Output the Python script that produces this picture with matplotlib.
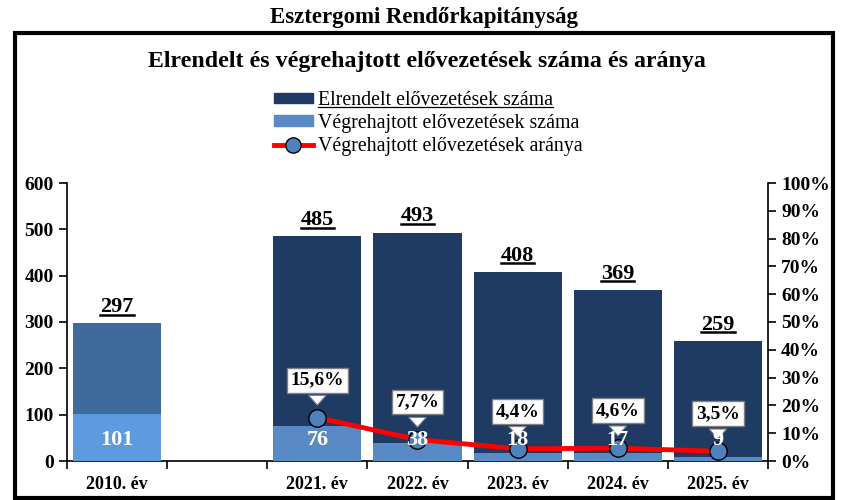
import numpy as np
import matplotlib
matplotlib.use("Agg")
import matplotlib.pyplot as plt
from matplotlib.patches import Rectangle, Patch
from matplotlib.lines import Line2D

plt.rcParams['font.family'] = ['Liberation Serif', 'DejaVu Serif']

# Adatok
categories = ['2010. év', '', '2021. év', '2022. év', '2023. év', '2024. év', '2025. év']
elrendelt = [297, np.nan, 485, 493, 408, 369, 259]
vegrehajtott = [101, np.nan, 76, 38, 18, 17, 9]
arany_years = ['2021. év', '2022. év', '2023. év', '2024. év', '2025. év']
arany = [15.6, 7.7, 4.4, 4.6, 3.5]
arany_labels = ['15,6%', '7,7%', '4,4%', '4,6%', '3,5%']

dark = '#1F3B64'
light = '#5A8AC6'
dark_2010 = '#3F6A9C'
light_2010 = '#5E9AE0'

W, H = 841, 500
fig = plt.figure(figsize=(W / 100, H / 100), dpi=100)

ax = fig.add_axes([67 / W, 1 - 461 / H, (768 - 67) / W, (461 - 183) / H])
ax2 = ax.twinx()

x = np.arange(len(categories))
top_colors = [dark_2010] + [dark] * (len(categories) - 1)
bot_colors = [light_2010] + [light] * (len(categories) - 1)
ax.bar(x, elrendelt, width=0.88, color=top_colors, zorder=2)
ax.bar(x, vegrehajtott, width=0.88, color=bot_colors, zorder=3)

ax.set_xlim(-0.5, len(categories) - 0.5)
ax.set_ylim(0, 600)
ax.set_yticks(range(0, 601, 100))
ax.set_xticks(x)
ax.set_xticklabels(categories, fontsize=13, fontweight='bold')
ax.set_xticks(np.arange(-0.5, len(categories), 1), minor=True)
ax.tick_params(axis='x', which='major', length=0, pad=11)
ax.tick_params(axis='x', which='minor', length=6, direction='out', width=1.2)
ax.tick_params(axis='y', length=6, width=1.2, direction='out', labelsize=14)
for lab in ax.get_yticklabels():
    lab.set_fontweight('bold')
for s in ['top', 'right']:
    ax.spines[s].set_visible(False)
ax.spines['left'].set_linewidth(1.2)
ax.spines['bottom'].set_linewidth(1.2)

# arány vonal a jobb tengelyen
xa = [categories.index(c) for c in arany_years]
ax2.plot(xa, arany, color='#FF0000', lw=3.5, marker='o', ms=12.5,
         mfc='#4F81BD', mec='black', mew=1.0, zorder=5)
ax2.set_ylim(0, 100)
ax2.set_yticks(range(0, 101, 10))
ax2.set_yticklabels([f'{v}%' for v in range(0, 101, 10)])
ax2.tick_params(axis='y', length=6, width=1.2, direction='out', labelsize=14)
for lab in ax2.get_yticklabels():
    lab.set_fontweight('bold')
for s in ['top', 'left', 'bottom']:
    ax2.spines[s].set_visible(False)
ax2.spines['right'].set_linewidth(1.2)

for xi, v, lab in zip(xa, arany, arany_labels):
    ax2.annotate(lab, xy=(xi, v), xytext=(0, 27), textcoords='offset points',
                 ha='center', va='center', fontsize=14, fontweight='bold', zorder=8,
                 bbox=dict(boxstyle='square,pad=0.2', fc='white', ec='#808080', lw=1),
                 arrowprops=dict(arrowstyle='simple,head_length=0.5,head_width=0.9,tail_width=0.45',
                                 fc='white', ec='#808080', lw=0.8, shrinkB=9))

# értékcímkék
top_texts = []
for xi, v in zip(x, elrendelt):
    if np.isnan(v):
        continue
    t = ax2.annotate(str(int(v)), xy=(xi, v), xycoords=ax.transData,
                     xytext=(0, 8), textcoords='offset points',
                     ha='center', va='baseline', fontsize=16, fontweight='bold', zorder=9)
    top_texts.append(t)
for xi, v in zip(x, vegrehajtott):
    if np.isnan(v):
        continue
    ax2.text(xi, 45, str(int(v)), transform=ax.transData, ha='center', va='center',
             fontsize=16, fontweight='bold', color='white', zorder=10)

# címek
fig.text(424 / W, 1 - 18 / H, 'Esztergomi Rendőrkapitányság', ha='center', va='center',
         fontsize=16.5, fontweight='bold')
fig.text(427 / W, 1 - 61 / H, 'Elrendelt és végrehajtott elővezetések száma és aránya',
         ha='center', va='center', fontsize=17.2, fontweight='bold')

handles = [Patch(color=dark), Patch(color=light),
           Line2D([0], [0], color='#FF0000', lw=3.5, marker='o', ms=11,
                  mfc='#4F81BD', mec='black')]
labels = ['Elrendelt elővezetések száma', 'Végrehajtott elővezetések száma',
          'Végrehajtott elővezetések aránya']
leg = fig.legend(handles, labels, loc='upper center', bbox_to_anchor=(428 / W, 1 - 81 / H),
                 frameon=False, fontsize=14.3, handlelength=1.95, handleheight=0.45,
                 handletextpad=0.25, labelspacing=0.2, borderpad=0)

# keret
fig.add_artist(Rectangle((15 / W, 2 / H), (833 - 15) / W, (467 - 2) / H,
                         transform=fig.transFigure, fill=False, lw=3, ec='black'))

# aláhúzások
fig.canvas.draw()
r = fig.canvas.get_renderer()
inv = fig.transFigure.inverted()
for t in top_texts:
    bb = t.get_window_extent(r)
    base = ax.transData.transform((t.xy[0], t.xy[1]))[1] + 8 * 100 / 72
    (x0, y0) = inv.transform((bb.x0, base - 2.5))
    (x1, _) = inv.transform((bb.x1, base - 2.5))
    fig.add_artist(Line2D([x0, x1], [y0, y0], transform=fig.transFigure, color='black', lw=1.8))
lt = leg.get_texts()[0]
bb = lt.get_window_extent(r)
(x0, y0) = inv.transform((bb.x0, bb.y0 + 2.5))
(x1, _) = inv.transform((bb.x1, bb.y0 + 2.5))
fig.add_artist(Line2D([x0, x1], [y0, y0], transform=fig.transFigure, color='black', lw=0.9))

fig.savefig('out.png', dpi=100)
